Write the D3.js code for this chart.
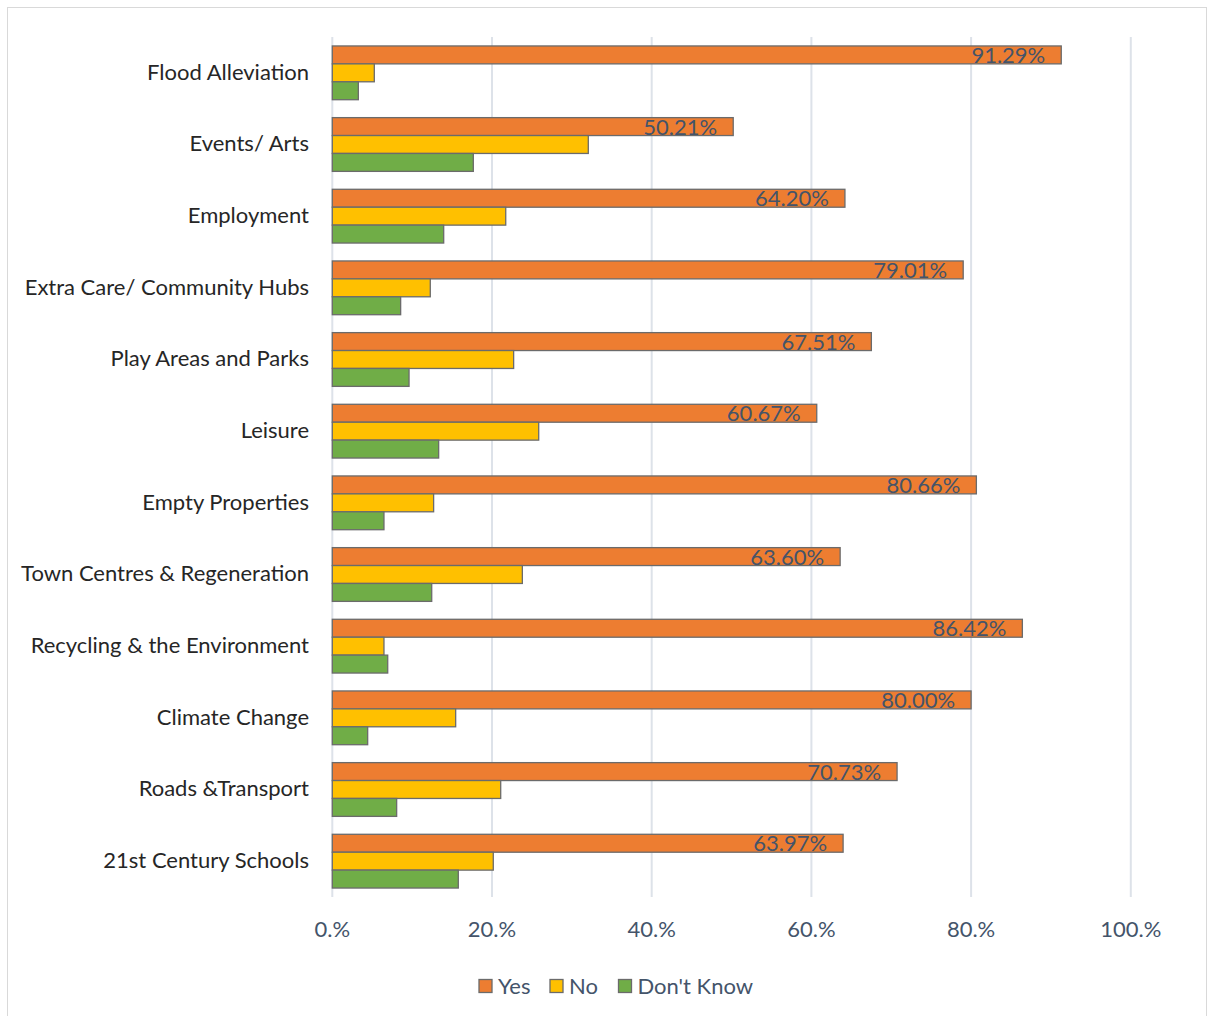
<!DOCTYPE html>
<html>
<head>
<meta charset="utf-8">
<script src="https://cdn.jsdelivr.net/npm/d3@7"></script>
<style>
  html, body { margin: 0; padding: 0; background: #fff; }
  svg { display: block; font-family: Lato, "Open Sans", sans-serif; }
</style>
</head>
<body>
<div id="chart"></div>
<script>
// Survey responses by service area (share of respondents)
const categories = [
  "Flood Alleviation",
  "Events/ Arts",
  "Employment",
  "Extra Care/ Community Hubs",
  "Play Areas and Parks",
  "Leisure",
  "Empty Properties",
  "Town Centres & Regeneration",
  "Recycling & the Environment",
  "Climate Change",
  "Roads &Transport",
  "21st Century Schools"
];
const seriesNames = ["Yes", "No", "Don't Know"];
const yesValues     = [91.29, 50.21, 64.20, 79.01, 67.51, 60.67, 80.66, 63.60, 86.42, 80.00, 70.73, 63.97];
const noValues      = [5.26, 32.06, 21.72, 12.27, 22.71, 25.85, 12.69, 23.80, 6.47, 15.45, 21.09, 20.16];
const dontKnowValues = [3.26, 17.66, 13.95, 8.56, 9.61, 13.32, 6.47, 12.45, 6.94, 4.43, 8.06, 15.78];
const tickValues = [0, 20, 40, 60, 80, 100];
const tickLabels = ["0.%", "20.%", "40.%", "60.%", "80.%", "100.%"];
const seriesColors = ["#ED7D31", "#FFC000", "#70AD47"];

const W = 1208, H = 1016;
const margin = { left: 332.3, right: 1130.8, top: 37, bottom: 897 };

const svg = d3.select("#chart").append("svg")
  .attr("width", W).attr("height", H);

// chart frame
svg.append("rect")
  .attr("x", 7.5).attr("y", 7.5)
  .attr("width", 1199).attr("height", 1030)
  .attr("fill", "#fff").attr("stroke", "#D9D9D9").attr("stroke-width", 1);

const x = d3.scaleLinear().domain([0, 100]).range([margin.left, margin.right]);
const y0 = d3.scaleBand().domain(categories)
  .range([margin.top, margin.bottom])
  .paddingInner(0.25).paddingOuter(0.125);
const y1 = d3.scaleBand().domain(seriesNames).range([0, y0.bandwidth()]);

// vertical gridlines
svg.append("g")
  .selectAll("line").data(tickValues).join("line")
  .attr("x1", d => x(d)).attr("x2", d => x(d))
  .attr("y1", margin.top).attr("y2", margin.bottom)
  .attr("stroke", "#DDE2E9").attr("stroke-width", 2);

const rows = categories.map((c, i) => ({
  cat: c,
  vals: [yesValues[i], noValues[i], dontKnowValues[i]]
}));

// bars
const groups = svg.append("g").selectAll("g").data(rows).join("g")
  .attr("transform", d => `translate(0,${y0(d.cat)})`);

groups.selectAll("rect")
  .data(d => d.vals.map((v, k) => ({ v, s: seriesNames[k], k })))
  .join("rect")
  .attr("x", x(0))
  .attr("y", d => y1(d.s))
  .attr("width", d => x(d.v) - x(0))
  .attr("height", y1.bandwidth())
  .attr("fill", d => seriesColors[d.k])
  .attr("stroke", "#6B6B6B").attr("stroke-width", 1.3);

// value labels on the "Yes" bars, inside end
groups.append("text")
  .attr("x", d => x(d.vals[0]) - 16)
  .attr("y", y1("Yes") + y1.bandwidth() / 2)
  .attr("dy", "0.36em")
  .attr("text-anchor", "end")
  .attr("fill", "#44546A")
  .attr("font-size", 22)
  .text(d => d.vals[0].toFixed(2) + "%");

// category axis labels
svg.append("g").selectAll("text").data(categories).join("text")
  .attr("x", 309)
  .attr("y", d => y0(d) + y0.bandwidth() / 2 - 1)
  .attr("dy", "0.36em")
  .attr("text-anchor", "end")
  .attr("fill", "#262626")
  .attr("font-size", 22)
  .text(d => d);

// value axis tick labels
svg.append("g").selectAll("text").data(tickValues).join("text")
  .attr("x", d => x(d))
  .attr("y", 929)
  .attr("dy", "0.36em")
  .attr("text-anchor", "middle")
  .attr("fill", "#44546A")
  .attr("font-size", 22)
  .text((d, i) => tickLabels[i]);

// legend
const legendX = [479, 550, 618.5];
const legend = svg.append("g").selectAll("g").data(seriesNames).join("g")
  .attr("transform", (d, i) => `translate(${legendX[i]},979.5)`);
legend.append("rect")
  .attr("width", 13).attr("height", 13)
  .attr("fill", (d, i) => seriesColors[i])
  .attr("stroke", "#6B6B6B").attr("stroke-width", 1.3);
legend.append("text")
  .attr("x", 19).attr("y", 6.5).attr("dy", "0.36em")
  .attr("fill", "#44546A").attr("font-size", 22)
  .text(d => d);
</script>
</body>
</html>
